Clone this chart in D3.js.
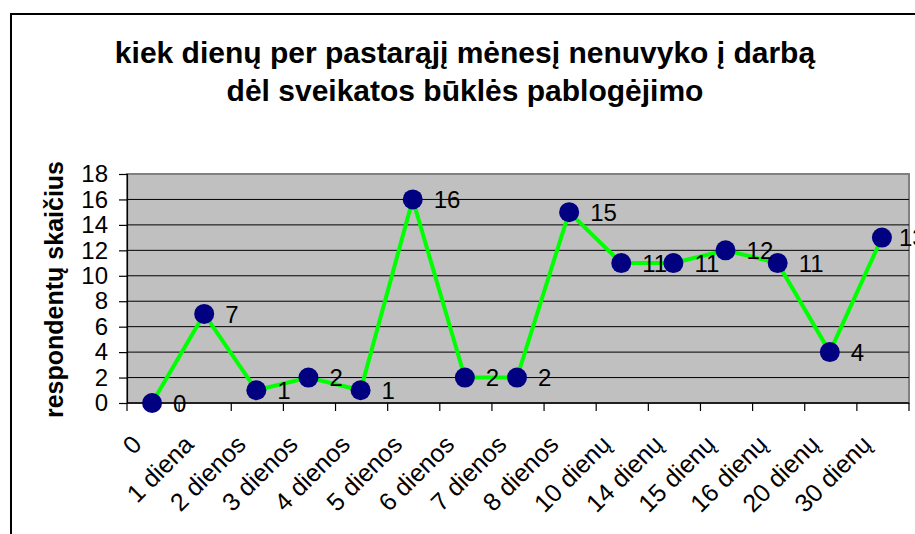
<!DOCTYPE html>
<html>
<head>
<meta charset="utf-8">
<script src="https://cdn.jsdelivr.net/npm/d3@7"></script>
<style>
  body { margin: 0; background: #fff; }
  svg { display: block; font-family: "Liberation Sans", Arial, sans-serif; }
</style>
</head>
<body>
<div id="chart"></div>
<script>
// data
const categories = ["0", "1 diena", "2 dienos", "3 dienos", "4 dienos", "5 dienos", "6 dienos",
  "7 dienos", "8 dienos", "10 dienų", "14 dienų", "15 dienų", "16 dienų", "20 dienų", "30 dienų"];
const values = [0, 7, 1, 2, 1, 16, 2, 2, 15, 11, 11, 12, 11, 4, 13];
const yTicks = [0, 2, 4, 6, 8, 10, 12, 14, 16, 18];
const titleLines = ["kiek dienų per pastarąjį mėnesį nenuvyko į darbą", "dėl sveikatos būklės pablogėjimo"];
const yTitle = "respondentų skaičius";

const W = 915, H = 534;
const plot = { left: 127, top: 174, right: 909, bottom: 403 };

const svg = d3.select("#chart")
  .append("svg")
  .attr("width", W)
  .attr("height", H);

// outer chart frame (runs off the right and bottom edge)
svg.append("rect")
  .attr("x", 11).attr("y", 14)
  .attr("width", 960).attr("height", 600)
  .attr("fill", "#fff")
  .attr("stroke", "#000")
  .attr("stroke-width", 2);

// title
svg.append("g")
  .selectAll("text")
  .data(titleLines)
  .enter()
  .append("text")
  .attr("x", 465)
  .attr("y", (d, i) => 63 + i * 38)
  .attr("text-anchor", "middle")
  .attr("font-size", 30)
  .attr("font-weight", "bold")
  .text(d => d);

const x = d3.scaleBand()
  .domain(categories)
  .range([plot.left, plot.right]);
const y = d3.scaleLinear()
  .domain([0, 18])
  .range([plot.bottom, plot.top]);

// plot area
svg.append("rect")
  .attr("x", plot.left).attr("y", plot.top)
  .attr("width", plot.right - plot.left)
  .attr("height", plot.bottom - plot.top)
  .attr("fill", "#c0c0c0")
  .attr("stroke", "#808080")
  .attr("stroke-width", 2);

// gridlines
svg.append("g")
  .selectAll("line")
  .data(yTicks.filter(t => t > 0 && t < 18))
  .enter()
  .append("line")
  .attr("x1", plot.left).attr("x2", plot.right)
  .attr("y1", d => y(d)).attr("y2", d => y(d))
  .attr("stroke", "#000")
  .attr("stroke-width", 1);

// y axis
const yAxis = svg.append("g")
  .attr("transform", `translate(${plot.left},0)`)
  .call(d3.axisLeft(y).tickValues(yTicks).tickSize(8).tickPadding(11));
yAxis.selectAll("text").attr("font-size", 24).attr("fill", "#000").attr("font-family", null);
yAxis.selectAll("line, path").attr("stroke", "#000").attr("stroke-width", 1.2);

// x axis: ticks at category boundaries
const bounds = categories.map(c => x(c)).concat([plot.right]);
const xAxis = svg.append("g");
xAxis.append("line")
  .attr("x1", plot.left).attr("x2", plot.right)
  .attr("y1", plot.bottom).attr("y2", plot.bottom)
  .attr("stroke", "#000").attr("stroke-width", 1.5);
xAxis.selectAll(".tick")
  .data(bounds)
  .enter()
  .append("line")
  .attr("x1", d => d).attr("x2", d => d)
  .attr("y1", plot.bottom).attr("y2", plot.bottom + 8)
  .attr("stroke", "#000").attr("stroke-width", 1.2);
xAxis.selectAll("text")
  .data(categories)
  .enter()
  .append("text")
  .attr("transform", d => `translate(${x(d) + x.bandwidth() / 2 - 10},446) rotate(-45)`)
  .attr("text-anchor", "end")
  .attr("font-size", 25)
  .text(d => d);

// y axis title
svg.append("text")
  .attr("transform", `translate(63,${(plot.top + plot.bottom) / 2 + 1}) rotate(-90)`)
  .attr("text-anchor", "middle")
  .attr("font-size", 25)
  .attr("font-weight", "bold")
  .text(yTitle);

// series
const pts = categories.map((c, i) => ({ cat: c, v: values[i] }));
const cx = d => x(d.cat) + x.bandwidth() / 2 - 1;

svg.append("path")
  .datum(pts)
  .attr("fill", "none")
  .attr("stroke", "#00ff00")
  .attr("stroke-width", 4)
  .attr("d", d3.line().x(cx).y(d => y(d.v)));

svg.append("g")
  .selectAll("circle")
  .data(pts)
  .enter()
  .append("circle")
  .attr("cx", cx)
  .attr("cy", d => y(d.v))
  .attr("r", 10)
  .attr("fill", "#000080");

// value labels, the last one pulled in a bit like the original
svg.append("g")
  .selectAll("text")
  .data(pts)
  .enter()
  .append("text")
  .attr("x", d => Math.min(cx(d) + 21, plot.right - 10))
  .attr("y", d => y(d.v))
  .attr("dy", "0.36em")
  .attr("font-size", 24)
  .text(d => d.v);
</script>
</body>
</html>
